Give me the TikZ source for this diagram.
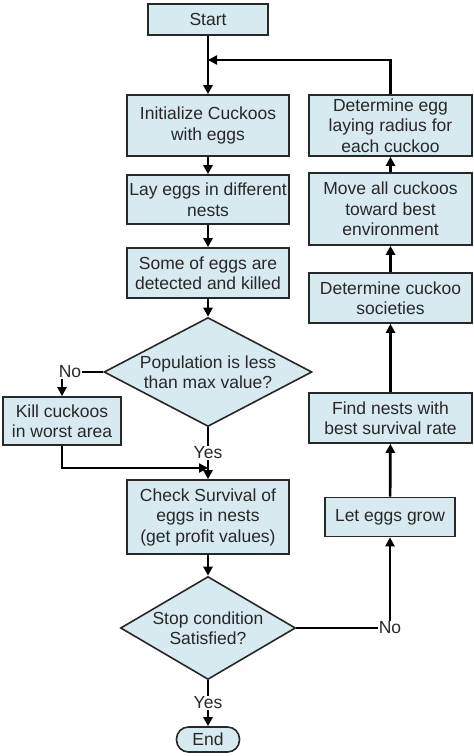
\documentclass[tikz,border=0pt]{standalone}
\usepackage{fontspec}
\setmainfont{Liberation Sans}
\usepackage{tikz}
\usetikzlibrary{shapes.geometric,arrows.meta,calc}
\definecolor{cuckoo-blue}{RGB}{214,234,240}
\definecolor{cuckoo-line}{RGB}{40,40,40}

\begin{document}
\begin{tikzpicture}[
		box/.style={draw=cuckoo-line, line width=1.6pt, fill=cuckoo-blue, align=center, inner sep=2pt, text=cuckoo-line},
		decision/.style={draw=cuckoo-line, line width=1.6pt, fill=cuckoo-blue, align=center, diamond, inner sep=0pt, text=cuckoo-line},
		label/.style={inner sep=1pt, text=cuckoo-line},
		line/.style={draw=black, line width=2.7pt},
		arrow/.style={line, -{Triangle[length=9pt,width=9pt]}}]
		\fontsize{17.5}{20.5}\selectfont
		\useasboundingbox (0,0) rectangle (474pt,-756pt);
		
		% Draw the left column
		\node (start) [box, minimum width=120pt, minimum height=31pt] at (208pt,-19.5pt) {Start};
		\node (init) [box, minimum width=162pt, minimum height=61pt, below of=start, node distance=106pt] {Initialize Cuckoos\\with eggs};
		\node (lay) [box, minimum width=162pt, minimum height=49pt, below of=init, node distance=74pt] {Lay eggs in different\\nests};
		\node (some) [box, minimum width=162pt, minimum height=50pt, below of=lay, node distance=73.5pt] {Some of eggs are\\detected and killed};
		
		% Draw the first decision
		\node (dec1) [decision, aspect=1.9, minimum width=208pt, minimum height=109pt, below of=some, node distance=99pt] {Population is less\\than max value?};
		\node (kill) [box, minimum width=118pt, minimum height=48pt, left of=dec1, node distance=146pt, yshift=-49pt] {Kill cuckoos\\in worst area};
		\node (no1) [label, left of=dec1, node distance=138pt] {No};
		\node (yes1) [label, below of=dec1, node distance=81pt] {Yes};
		
		% Draw the evaluation and the second decision
		\node (check) [box, minimum width=162pt, minimum height=74pt, below of=dec1, node distance=145pt] {Check Survival of\\eggs in nests\\(get profit values)};
		\coordinate [above of=check, node distance=49pt] (join);
		\node (dec2) [decision, aspect=1.7, minimum width=175pt, minimum height=103pt, below of=check, node distance=111pt] {Stop condition\\Satisfied?};
		\node (yes2) [label, below of=dec2, node distance=75pt] {Yes};
		\node (end) [box, rounded corners=12pt, minimum width=63pt, minimum height=25pt, inner sep=0pt, below of=dec2, node distance=111.5pt] {End};
		\node (no2) [label, right of=dec2, node distance=182pt] {No};
		
		% Draw the right column
		\node (detegg) [box, minimum width=163pt, minimum height=61pt, right of=init, node distance=182.5pt] {Determine egg\\laying radius for\\each cuckoo};
		\node (move) [box, minimum width=163pt, minimum height=72pt, below of=detegg, node distance=83.5pt] {Move all cuckoos\\toward best\\environment};
		\node (soc) [box, minimum width=163pt, minimum height=50pt, below of=move, node distance=89pt] {Determine cuckoo\\societies};
		\node (find) [box, minimum width=163pt, minimum height=50pt, below of=soc, node distance=120pt] {Find nests with\\best survival rate};
		\node (grow) [box, minimum width=130pt, minimum height=39pt, right of=check, node distance=182pt] {Let eggs grow};
		\coordinate [below of=start, node distance=40.5pt] (loop);
		
		% Connect the steps with arrows
		\draw[arrow] (start) -- (init);
		\draw[arrow] (init) -- (lay);
		\draw[arrow] (lay) -- (some);
		\draw[arrow] (some) -- (dec1);
		\draw[line] (dec1.west) -- (no1.east);
		\draw[arrow] (no1.south -| kill.north) -- (kill.north);
		\draw[line] (dec1.south) -- (yes1.north);
		\draw[arrow] (yes1.south) -- (check.north);
		\draw[arrow] (kill.south) |- (join);
		\draw[arrow] (check) -- (dec2);
		\draw[line] (dec2.south) -- (yes2.north);
		\draw[arrow] (yes2.south) -- (end.north);
		\draw[line] (dec2.east) -- (no2.west);
		\draw[arrow] (no2.north) -- (grow.south);
		\draw[arrow] (grow) -- (find);
		\draw[arrow] (find) -- (soc);
		\draw[arrow] (soc) -- (move);
		\draw[arrow] (move) -- (detegg);
		\draw[arrow] (detegg.north) |- (loop);
		\end{tikzpicture}
\end{document}
